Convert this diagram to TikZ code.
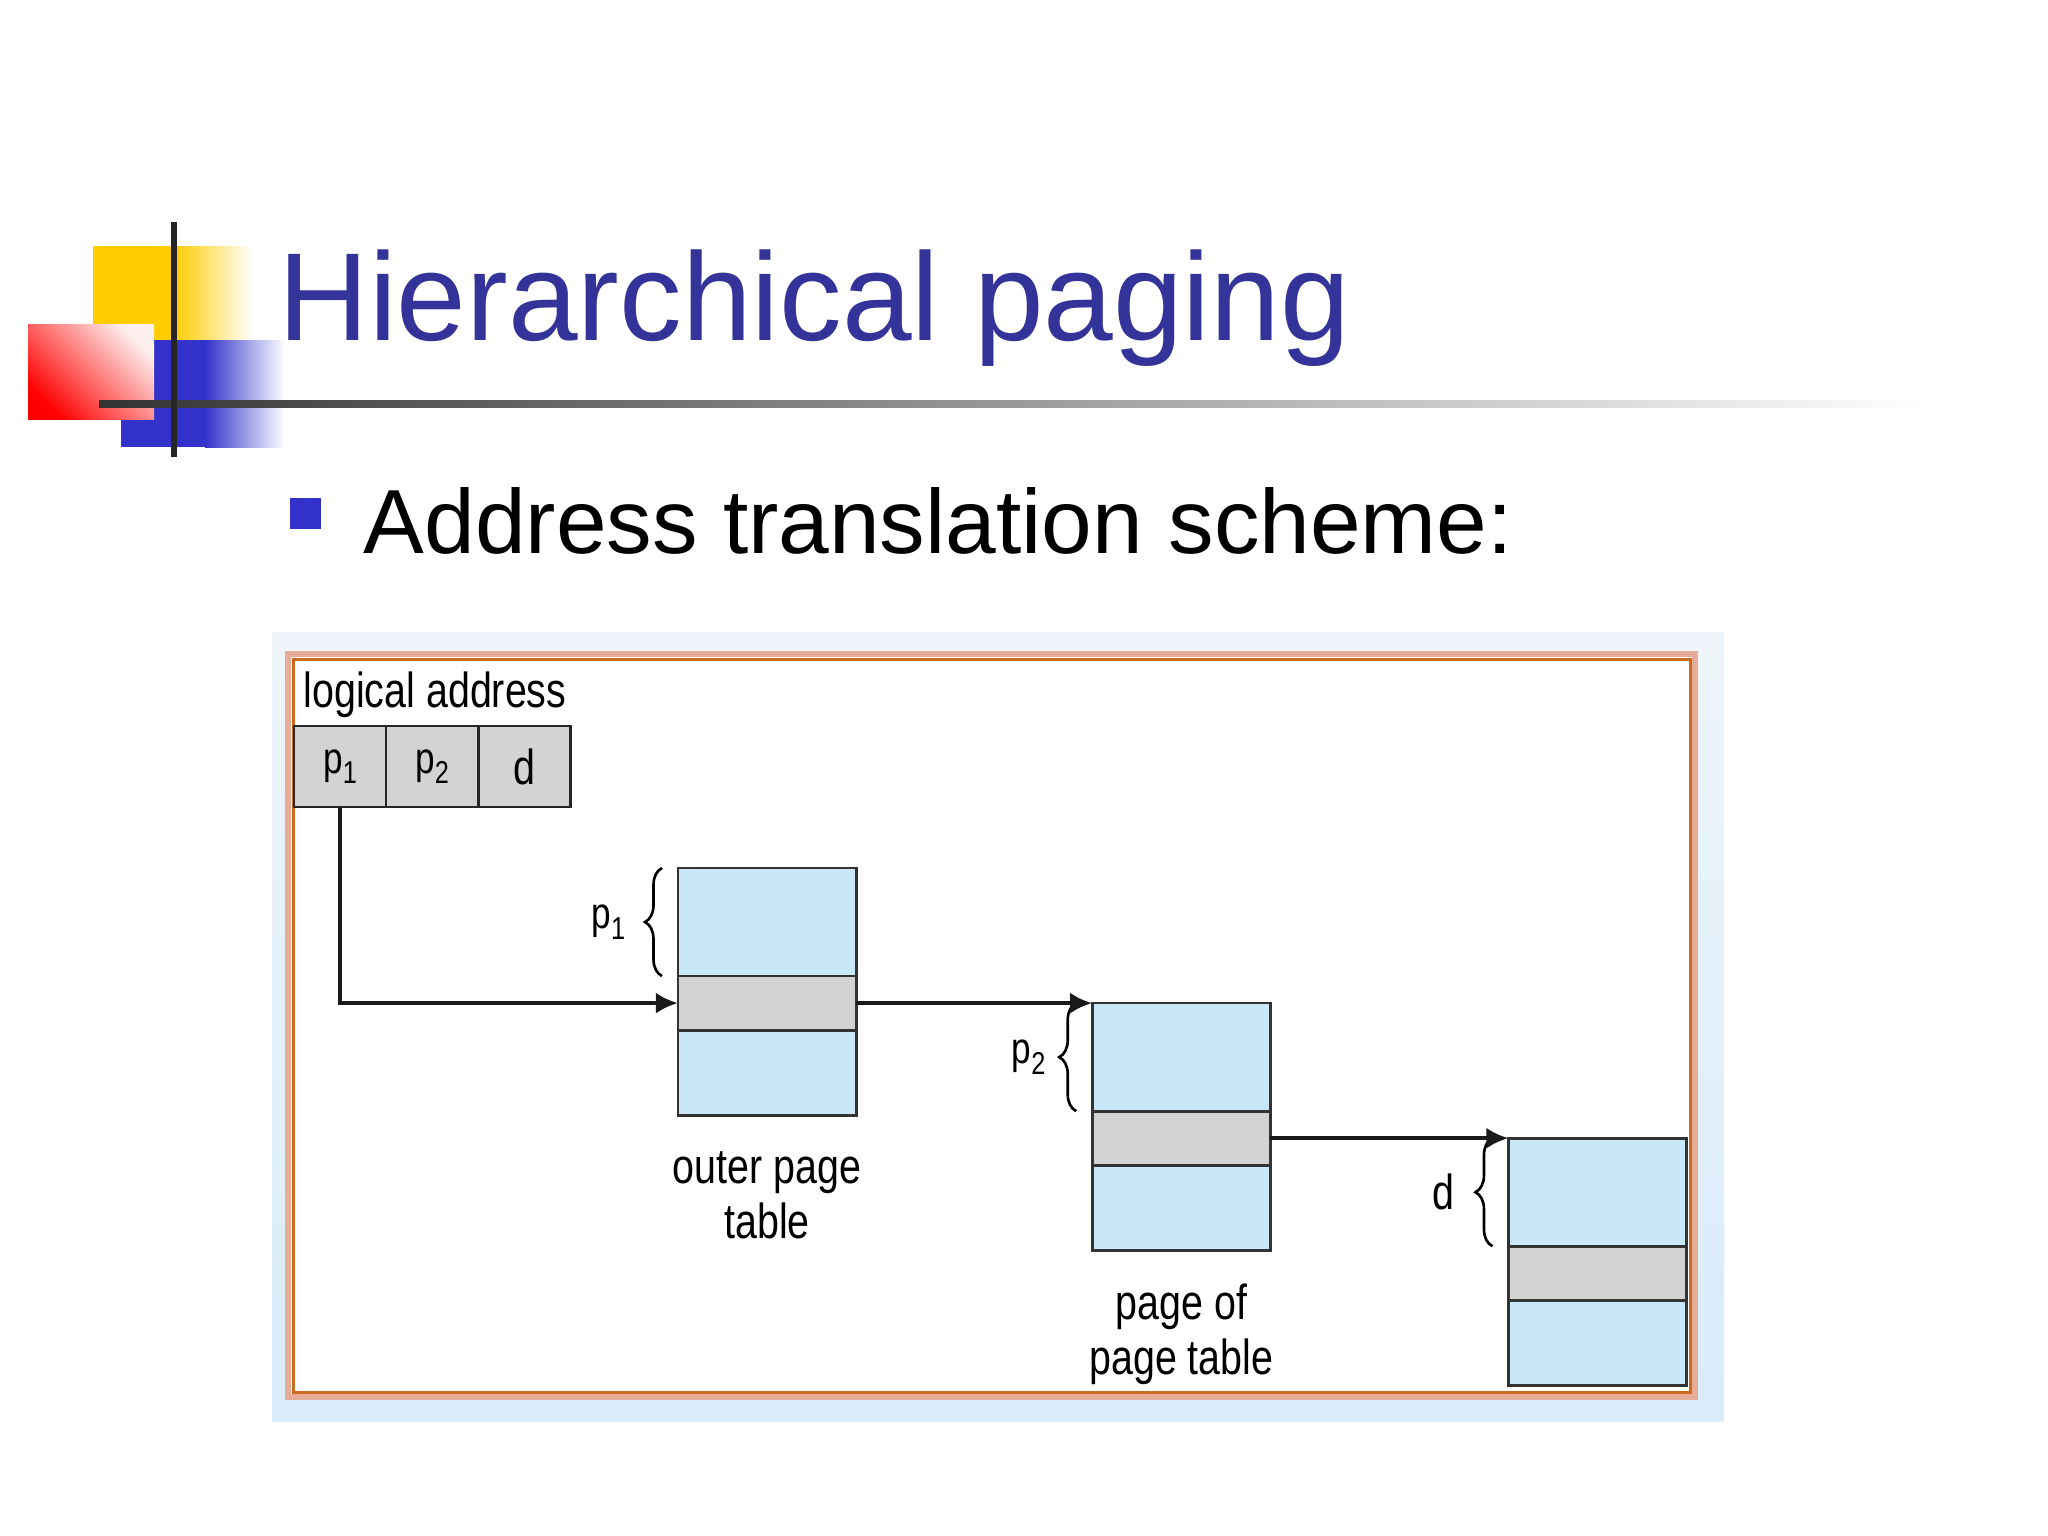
\documentclass[tikz,border=0pt]{standalone}
\usepackage{fontspec}
\setmainfont{Liberation Sans}
\newfontfamily\narrowfont[FakeStretch=0.8]{Liberation Sans}
\usetikzlibrary{positioning,arrows.meta,decorations.pathreplacing}

\definecolor{titleblue}{HTML}{333399}
\definecolor{decoblue}{HTML}{3333CC}
\definecolor{decoyellow}{HTML}{FFCC00}
\definecolor{tableblue}{HTML}{C8E8F8}
\definecolor{entrygray}{HTML}{D3D3D3}
\definecolor{framepink}{HTML}{E6AC98}
\definecolor{frameorange}{HTML}{CC6A1E}
\definecolor{paneltop}{HTML}{EEF4FA}
\definecolor{panelbottom}{HTML}{D8ECFA}

\newcommand{\pidx}[1]{{\fontsize{12.5}{12.5}\selectfont p}\raisebox{-3pt}{\fontsize{9}{9}\selectfont #1}}

\tikzset{
	field/.style={draw=black!85, line width=0.8pt, fill=entrygray, minimum width=0.92cm, minimum height=0.81cm, inner sep=0, outer sep=0, font=\narrowfont\fontsize{14}{14}\selectfont},
	tabtop/.style={draw=black!80, line width=0.8pt, fill=tableblue, minimum width=1.78cm, minimum height=1.08cm, inner sep=0, outer sep=0},
	tabentry/.style={tabtop, fill=entrygray, minimum height=0.54cm},
	tabbottom/.style={tabtop, minimum height=0.85cm},
	caption/.style={font=\narrowfont\fontsize{14}{15.6}\selectfont, align=center, inner sep=0},
	bracelabel/.style={font=\narrowfont\fontsize{14}{14}\selectfont, inner sep=0},
	tabbrace/.style={decorate, decoration={brace, amplitude=0.17cm}, line width=0.75pt},
	link/.style={->, line width=1.25pt, black!90},
	>={Latex[length=0.22cm, width=0.21cm]},
}

\begin{document}
\begin{tikzpicture}[x=0.01cm, y=-0.01cm]
	\useasboundingbox (0,0) rectangle (2048,1536);

	% title decoration
	\fill[decoyellow] (93,246) rectangle (174,340);
	\shade[left color=decoyellow, right color=white] (174,246) rectangle (252,340);
	\fill[decoblue] (121,340) rectangle (205,447);
	\shade[left color=decoblue, right color=white] (205,340) rectangle (285,447);
	\shade[left color=red, right color=red!6, shading angle=135] (28,324) rectangle (154,419);
	\shade[left color=black!80, middle color=black!45, right color=white] (99,400) rectangle (1925,407);
	\fill[black!85] (171,222) rectangle (177,457);

	\node[anchor=base west, inner sep=0, font=\fontsize{35.6}{35.6}\selectfont, text=titleblue] (title) at (278,340) {Hierarchical paging};
	\node[fill=decoblue, minimum size=0.31cm, inner sep=0] (bullet) at (305.5,513) {};
	\node[anchor=base west, inner sep=0, font=\fontsize{25.9}{25.9}\selectfont] (scheme) at (363,553) {Address translation scheme:};

	% picture panel
	\shade[top color=paneltop, bottom color=panelbottom] (272,632) rectangle (1724,1421);
	\fill[white] (288,654) rectangle (1695,1397);
	\draw[framepink, line width=0.06cm] (288,654) rectangle (1695,1397);
	\draw[frameorange, line width=0.03cm] (293,659.5) rectangle (1690,1392);

	\node[anchor=base west, inner sep=0, font=\narrowfont\fontsize{14}{14}\selectfont] (00) at (303,707) {logical address};
	\node[field, anchor=north west]	(0)	at (294,726)	{\pidx{1}};
	\node[field]	(1)	[right=0pt of 0]	{\pidx{2}};
	\node[field]	(2)	[right=0pt of 1]	{d};

	\node[tabtop, anchor=north west]	(10)	at (678,868)	{};
	\node[tabentry]	(11)	[below=0pt of 10]	{};
	\node[tabbottom]	(12)	[below=0pt of 11]	{};
	\node[caption]	(13)	[below=0.36cm of 12]	{outer page\\table};
	\node[bracelabel]	(14)	[left=0.52cm of 10]	{\pidx{1}};
	\draw[tabbrace] ([xshift=-0.16cm]10.south west) -- ([xshift=-0.16cm]10.north west);

	\node[tabtop, anchor=north west]	(20)	at ([xshift=2.36cm]11.east)	{};
	\node[tabentry]	(21)	[below=0pt of 20]	{};
	\node[tabbottom]	(22)	[below=0pt of 21]	{};
	\node[caption]	(23)	[below=0.33cm of 22]	{page of\\page table};
	\node[bracelabel]	(24)	[left=0.46cm of 20]	{\pidx{2}};
	\draw[tabbrace] ([xshift=-0.16cm]20.south west) -- ([xshift=-0.16cm]20.north west);

	\node[tabtop, anchor=north west]	(30)	at ([xshift=2.38cm]21.east)	{};
	\node[tabentry]	(31)	[below=0pt of 30]	{};
	\node[tabbottom]	(32)	[below=0pt of 31]	{};
	\node[bracelabel]	(34)	[left=0.53cm of 30]	{d};
	\draw[tabbrace] ([xshift=-0.16cm]30.south west) -- ([xshift=-0.16cm]30.north west);

	\draw[link] (0.south) |- (11.west);
	\draw[link] (11.east) -- (20.north west);
	\draw[link] (21.east) -- (30.north west);
\end{tikzpicture}
\end{document}
